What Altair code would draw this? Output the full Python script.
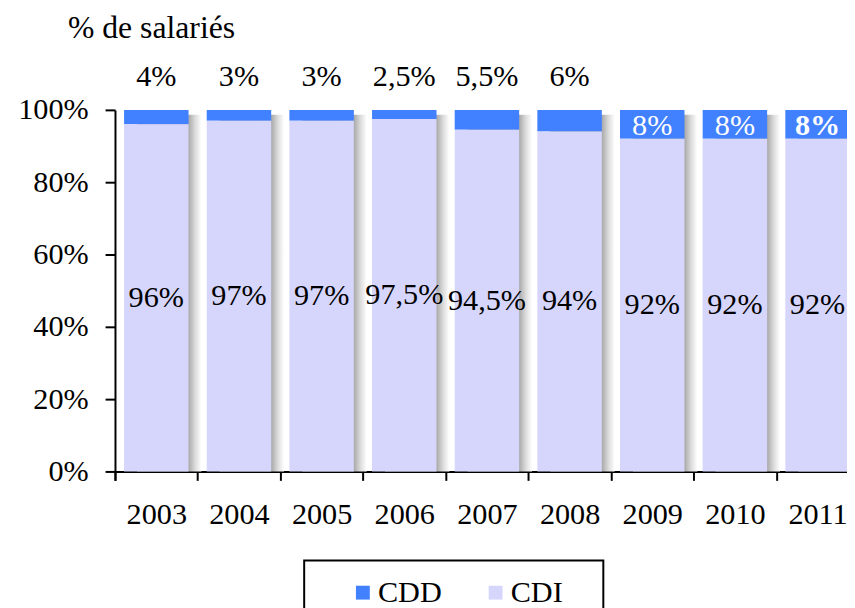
import altair as alt
import pandas as pd

years = ["2003", "2004", "2005", "2006", "2007", "2008", "2009", "2010", "2011"]
cdd = [4, 3, 3, 2.5, 5.5, 6, 8, 8, 8]
cdi = [96, 97, 97, 97.5, 94.5, 94, 92, 92, 92]
cdd_labels = ["4%", "3%", "3%", "2,5%", "5,5%", "6%", "8%", "8%", "8%"]
cdi_labels = ["96%", "97%", "97%", "97,5%", "94,5%", "94%", "92%", "92%", "92%"]
cdd_label_place = ["above"] * 6 + ["inside"] * 3
cdd_label_bold = [False] * 8 + [True]
series = ["CDD", "CDI"]
colors = ["#4181ff", "#d6d6fc"]
y_ticks = [0, 20, 40, 60, 80, 100]
y_title = "% de salariés"

FONT = "Liberation Serif"
FS = 30.5
TFS = 32

wide = pd.DataFrame({
    "year": years, "cdd": cdd, "cdi": cdi,
    "cdd_label": cdd_labels, "cdi_label": cdi_labels,
    "place": cdd_label_place, "bold": cdd_label_bold,
})
long = pd.DataFrame({
    "year": years * 2,
    "type": [series[0]] * len(years) + [series[1]] * len(years),
    "value": cdd + cdi,
    "order": [2] * len(years) + [1] * len(years),
})

x_axis = alt.Axis(labelAngle=0, bandPosition=0, tickOffset=-9.2, labelOffset=9.2,
                  tickExtra=True, labelPadding=20, tickSize=9)
x_scale = alt.Scale(paddingInner=0.22, paddingOuter=0.11, range=[0, 751])
y_axis = alt.Axis(values=y_ticks, labelExpr="datum.value + '%'", tickSize=10,
                  labelPadding=17, title=y_title, titleAngle=0, titleAlign="left",
                  titleBaseline="middle", titleX=-48, titleY=-83,
                  titleFontWeight="normal", titleFont=FONT, titleFontSize=TFS,
                  titleColor="black")
y_scale = alt.Scale(domain=[0, 100], nice=False)

X = alt.X("year:N", title=None, axis=x_axis, scale=x_scale)

shadow = alt.Chart(wide).transform_calculate(total="datum.cdd + datum.cdi").mark_bar(
    xOffset=13, yOffset=5, clip=True,
    color=alt.LinearGradient(
        gradient="linear", x1=0, x2=1, y1=0, y2=0,
        stops=[alt.GradientStop(offset=0, color="#a0a0a0"),
               alt.GradientStop(offset=0.8, color="#a8a8a8"),
               alt.GradientStop(offset=0.9, color="#dadada"),
               alt.GradientStop(offset=1, color="#ffffff")]),
).encode(x=X, y=alt.Y("total:Q", axis=y_axis, scale=y_scale))

bars = alt.Chart(long).mark_bar().encode(
    x=X,
    y=alt.Y("value:Q", stack="zero", axis=y_axis, scale=y_scale),
    color=alt.Color("type:N", scale=alt.Scale(domain=series, range=colors),
                    sort=series,
                    legend=alt.Legend(
                        orient="none", legendX=191, legendY=455,
                        direction="horizontal", columns=2,
                        title="MM", titleOrient="left", titleOpacity=0,
                        titlePadding=2, titleFontSize=13, titleFont=FONT,
                        labelExpr="datum.label == 'CDI' ? datum.label + '\u2800' : datum.label",
                        labelFont=FONT, labelFontSize=FS, labelColor="black",
                        symbolType="square", symbolSize=196, symbolStrokeWidth=0,
                        labelOffset=0, columnPadding=39,
                        strokeColor="black", padding=17)),
    order=alt.Order("order:Q"),
)

cdi_text = alt.Chart(wide).transform_calculate(mid="datum.cdi / 2").mark_text(
    font=FONT, fontSize=FS, color="black", baseline="middle"
).encode(x=X, y=alt.Y("mid:Q", axis=y_axis, scale=y_scale), text="cdi_label:N")

top_text = alt.Chart(wide).transform_filter("datum.place == 'above'").transform_calculate(
    top="datum.cdd + datum.cdi").mark_text(
    font=FONT, fontSize=FS, color="black", baseline="middle", dy=-33
).encode(x=X, y=alt.Y("top:Q", axis=y_axis, scale=y_scale), text="cdd_label:N")

inside_text = alt.Chart(wide).transform_filter(
    "datum.place == 'inside' && !datum.bold").transform_calculate(
    pos="datum.cdi + datum.cdd / 2").mark_text(
    font=FONT, fontSize=FS, color="white", baseline="middle", dy=2
).encode(x=X, y=alt.Y("pos:Q", axis=y_axis, scale=y_scale), text="cdd_label:N")

inside_bold = alt.Chart(wide).transform_filter(
    "datum.place == 'inside' && datum.bold").transform_calculate(
    pos="datum.cdi + datum.cdd / 2").mark_text(
    font=FONT, fontSize=FS, color="white", baseline="middle", dy=2, fontWeight="bold"
).encode(x=X, y=alt.Y("pos:Q", axis=y_axis, scale=y_scale), text="cdd_label:N")

chart = alt.layer(shadow, bars, cdi_text, top_text, inside_text, inside_bold).properties(
    width=739, height=365,
    autosize=alt.AutoSizeParams(type="none"),
    padding={"left": 108, "top": 100, "right": 0, "bottom": 135},
    background="white",
).configure_view(stroke=None).configure_axis(
    grid=False, domainColor="black", domainWidth=2, tickColor="black", tickWidth=2,
    labelFont=FONT, labelFontSize=FS, labelColor="black", zindex=1,
).configure_legend(strokeWidth=2)

chart.save("out.html", embed_options={"renderer": "svg", "actions": False})
